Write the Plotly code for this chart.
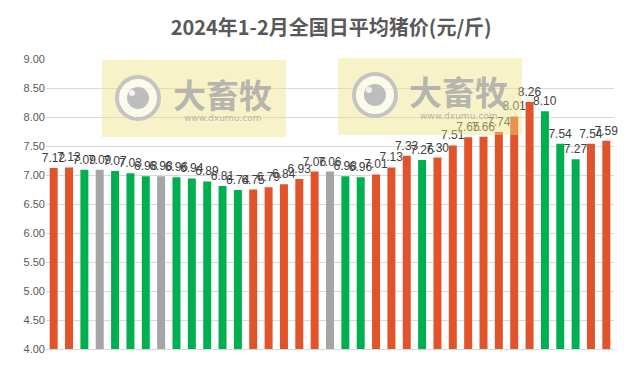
import plotly.graph_objects as go

days = [f"D{i+1}" for i in range(37)]
prices = [7.12, 7.13, 7.09, 7.09, 7.07, 7.03, 6.98, 6.98, 6.96, 6.94, 6.89, 6.81, 6.74,
          6.75, 6.79, 6.84, 6.93, 7.06, 7.06, 6.98, 6.96, 7.01, 7.13, 7.33, 7.26, 7.30,
          7.51, 7.65, 7.66, 7.74, 8.01, 8.26, 8.10, 7.54, 7.27, 7.54, 7.59]
trend = ["up", "up", "down", "flat", "down", "down", "down", "flat", "down", "down", "down",
         "down", "down", "up", "up", "up", "up", "up", "flat", "down", "down", "up", "up",
         "up", "down", "up", "up", "up", "up", "up", "up", "up", "down", "down", "down",
         "up", "up"]
palette = {"up": "#E0532B", "down": "#00B050", "flat": "#A5A5A5"}
colors = [palette[t] for t in trend]

fig = go.Figure()
fig.add_trace(go.Bar(
    x=days, y=prices, marker_color=colors, marker_line_width=0,
    text=[f"{v:.2f}" for v in prices], textposition="outside", constraintext="none",
    textfont=dict(size=12, color="#404040", family="Liberation Sans, Arial"),
    cliponaxis=False, width=0.52, hoverinfo="skip",
))

L, R, T, B = 46, 18, 59, 22
W, H = 632, 371
pw, ph = W - L - R, H - T - B

def px(x):
    return (x - L) / pw

def py(y):
    return (H - B - y) / ph

shapes = []
annotations = []
for (rx0, rx1, ry0, ry1, cx, cy, tx, ty, uy) in [
    (102, 286, 60, 137, 138, 98, 222, 94, 118),
    (338, 522, 58, 135, 375, 95, 458, 91, 116),
]:
    shapes.append(dict(type="rect", xref="paper", yref="paper",
                       x0=px(rx0), x1=px(rx1), y0=py(ry1), y1=py(ry0),
                       fillcolor="rgba(238,226,130,0.45)", line_width=0, layer="above"))
    r = 21
    shapes.append(dict(type="circle", xref="paper", yref="paper",
                       x0=px(cx - r), x1=px(cx + r), y0=py(cy + r), y1=py(cy - r),
                       fillcolor="rgba(255,255,255,0.6)", line=dict(color="#C4C4C4", width=4),
                       layer="above"))
    r2 = 11
    shapes.append(dict(type="circle", xref="paper", yref="paper",
                       x0=px(cx - r2), x1=px(cx + r2), y0=py(cy + r2), y1=py(cy - r2),
                       fillcolor="#BDBDBD", line_width=0, layer="above"))
    r3 = 3
    shapes.append(dict(type="circle", xref="paper", yref="paper",
                       x0=px(cx - 6 - r3), x1=px(cx - 6 + r3), y0=py(cy - 5 + r3), y1=py(cy - 5 - r3),
                       fillcolor="#F2F2F2", line_width=0, layer="above"))
    annotations.append(dict(xref="paper", yref="paper", x=px(tx), y=py(ty), text="<b>大畜牧</b>",
                            showarrow=False, font=dict(size=33, color="rgba(170,170,170,0.85)",
                                                       family="Noto Sans CJK SC"),
                            xanchor="center", yanchor="middle"))
    annotations.append(dict(xref="paper", yref="paper", x=px(tx), y=py(uy), text="www.dxumu.com",
                            showarrow=False, font=dict(size=9, color="rgba(170,170,170,0.85)",
                                                       family="DejaVu Sans"),
                            xanchor="center", yanchor="middle"))

fig.update_layout(
    width=W, height=H,
    margin=dict(l=L, r=R, t=T, b=B),
    paper_bgcolor="white", plot_bgcolor="white",
    title=dict(text="<b>2024年1-2月全国日平均猪价(元/斤)</b>", x=0.524, xanchor="center",
               y=1 - 28 / H, yanchor="middle",
               font=dict(size=20, color="#595959", family="Noto Sans CJK SC")),
    showlegend=False,
    hovermode=False,
    bargap=0.48,
    xaxis=dict(showticklabels=False, showgrid=False, ticks="", showline=True,
               linecolor="#D9D9D9", linewidth=1),
    yaxis=dict(range=[4, 9], dtick=0.5, tickformat=".2f", showgrid=True, gridcolor="#D9D9D9",
               gridwidth=1, zeroline=False, ticks="",
               tickfont=dict(size=11, color="#595959", family="Liberation Sans, Arial")),
    shapes=shapes, annotations=annotations,
)

fig.write_html("out.html", config={"displayModeBar": False},
               post_script="document.body.style.margin='0px';")
